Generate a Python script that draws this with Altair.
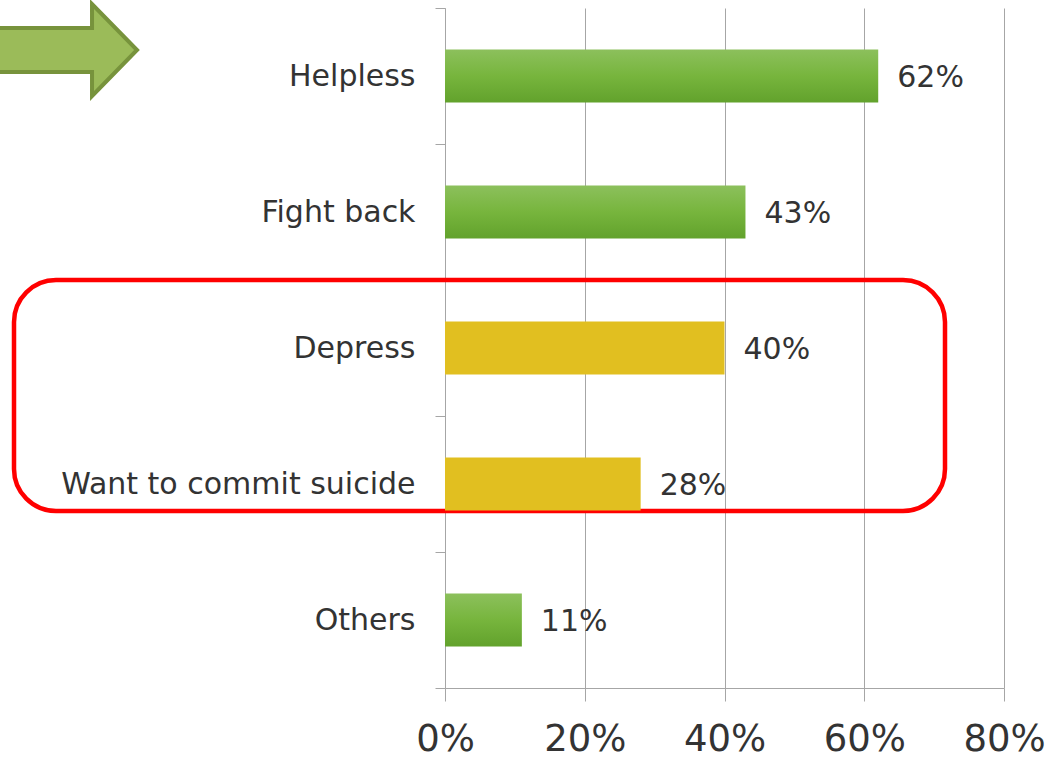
import altair as alt
import pandas as pd

categories = ["Helpless", "Fight back", "Depress", "Want to commit suicide", "Others"]
values = [0.62, 0.43, 0.40, 0.28, 0.11]
groups = ["green", "green", "yellow", "yellow", "green"]
labels = ["62%", "43%", "40%", "28%", "11%"]
x_ticks = [0, 0.2, 0.4, 0.6, 0.8]

df = pd.DataFrame({"category": categories, "value": values, "group": groups, "label": labels})

FONT = "DejaVu Sans"
GRID = "#a6a6a6"

y_enc = alt.Y("category:N", sort=categories,
              scale=alt.Scale(paddingInner=0, paddingOuter=0),
              axis=alt.Axis(title=None, tickBand="extent", labelFontSize=30, labelFont=FONT,
                            labelColor="#333333", tickSize=10, labelPadding=20,
                            domainColor=GRID, tickColor=GRID, grid=False, labelLimit=600))
x_enc = alt.X("value:Q", scale=alt.Scale(domain=[0, 0.8]),
              axis=alt.Axis(title=None, values=x_ticks, format=".0%", labelFontSize=37,
                            labelFont=FONT, labelColor="#333333", tickSize=13, labelPadding=20,
                            labelFlush=False, labelOverlap=False,
                            grid=True, gridColor=GRID, domainColor=GRID, tickColor=GRID))

base = alt.Chart(df)

green_grad = alt.Gradient(
    gradient="linear",
    stops=[alt.GradientStop(color="#8cc05c", offset=0),
           alt.GradientStop(color="#77b53d", offset=0.5),
           alt.GradientStop(color="#62a22c", offset=1)],
    x1=0, x2=0, y1=0, y2=1)

green = base.transform_filter(alt.datum.group == "green").mark_bar(size=53, color=green_grad).encode(x=x_enc, y=y_enc)
yellow = base.transform_filter(alt.datum.group == "yellow").mark_bar(size=53, color="#e1bf20").encode(x=x_enc, y=y_enc)
text = base.mark_text(align="left", baseline="middle", dx=19, dy=2, fontSize=30, font=FONT,
                      color="#333333").encode(x=x_enc, y=y_enc, text="label:N")

one = pd.DataFrame({"a": [0]})
box = alt.Chart(one).mark_rect(fill="transparent", stroke="#ff0000", strokeWidth=4.5,
                               cornerRadius=42).encode(
    x=alt.value(-431), x2=alt.value(500), y=alt.value(272), y2=alt.value(503))

arrow_path = "M-1.1,-0.293 L0.347,-0.293 L0.347,-0.613 L0.947,0 L0.347,0.613 L0.347,0.293 L-1.1,0.293 Z"
arrow = alt.Chart(one).mark_point(shape=arrow_path, size=22500, filled=True, fill="#9bbb59",
                                  stroke="#77933c", strokeWidth=4, opacity=1).encode(
    x=alt.value(-379), y=alt.value(42))

chart = alt.layer(box, green, yellow, text, arrow).properties(
    width=559, height=680,
    padding={"left": 445, "top": 8, "right": 54, "bottom": 73},
    autosize=alt.AutoSizeParams(type="none"),
    background="white",
).configure_view(stroke=None)

chart.save("out.html", embed_options={"renderer": "svg", "actions": False})
